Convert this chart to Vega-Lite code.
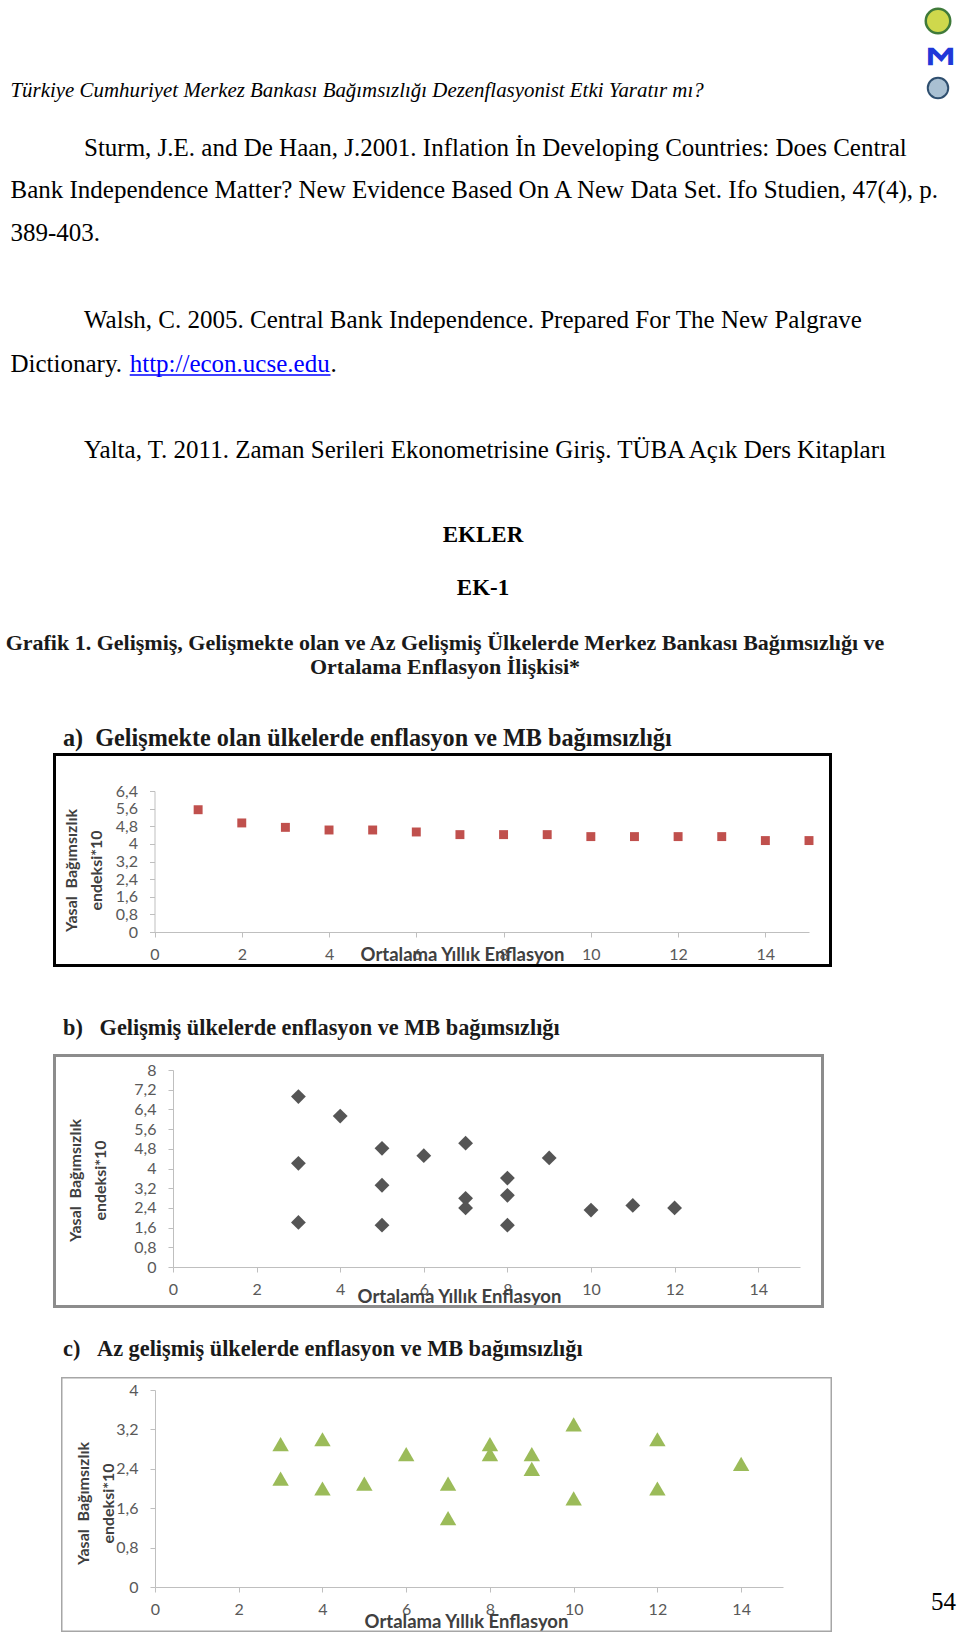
{
  "$schema": "https://vega.github.io/schema/vega-lite/v6.json",
  "width": 960,
  "height": 1639,
  "autosize": "none",
  "padding": 0,
  "background": "white",
  "config": {
    "view": {"stroke": null},
    "axis": {
      "grid": false,
      "domainColor": "#bfbfbf",
      "tickColor": "#bfbfbf",
      "tickSize": 5,
      "labelColor": "#595959",
      "labelFont": "Lato",
      "labelFontSize": 16,
      "labelOverlap": false,
      "labelFlush": false,
      "labelBound": false,
      "titleFont": "Lato",
      "titleFontSize": 18.5,
      "titleFontWeight": "bold",
      "titleColor": "#404040",
      "titlePadding": 0
    },
    "axisX": {"labelPadding": 9.1, "titleAlign": "center", "titleBaseline": "middle"},
    "axisY": {"labelPadding": 12, "titleAngle": -90, "titleAlign": "center", "titleBaseline": "middle", "titleLineHeight": 25, "titleFontSize": 16}
  },
  "datasets": {
    "page": [
      {"line": 1, "col": 8, "style": "logo1", "text": ""},
      {"line": 2, "col": 8, "style": "logo2", "text": "Σ"},
      {"line": 3, "col": 8, "style": "logo3", "text": ""},
      {"line": 4, "col": 0, "style": "header", "text": "Türkiye Cumhuriyet Merkez Bankası Bağımsızlığı Dezenflasyonist Etki Yaratır mı?"},
      {"line": 5, "col": 2, "style": "body", "text": "Sturm, J.E. and De Haan, J.2001. Inflation İn Developing Countries: Does Central"},
      {"line": 6, "col": 0, "style": "body", "text": "Bank Independence Matter? New Evidence Based On A New Data Set. Ifo Studien, 47(4), p."},
      {"line": 7, "col": 0, "style": "body", "text": "389-403."},
      {"line": 8, "col": 2, "style": "body", "text": "Walsh, C. 2005. Central Bank Independence. Prepared For The New Palgrave"},
      {"line": 9, "col": 0, "style": "body", "text": "Dictionary."},
      {"line": 9, "col": 3, "col2": 4, "style": "link", "text": "http://econ.ucse.edu"},
      {"line": 9, "col": 4, "style": "body", "text": "."},
      {"line": 10, "col": 2, "style": "body", "text": "Yalta, T. 2011. Zaman Serileri Ekonometrisine Giriş. TÜBA Açık Ders Kitapları"},
      {"line": 11, "col": 6, "style": "heading", "text": "EKLER"},
      {"line": 12, "col": 6, "style": "heading", "text": "EK-1"},
      {"line": 13, "col": 5, "style": "caption", "text": "Grafik 1. Gelişmiş, Gelişmekte olan ve Az Gelişmiş Ülkelerde Merkez Bankası Bağımsızlığı ve"},
      {"line": 14, "col": 5, "style": "caption", "text": "Ortalama Enflasyon İlişkisi*"},
      {"line": 15, "col": 1, "style": "panelbig", "text": "a)\u00a0\u00a0Gelişmekte olan ülkelerde enflasyon ve MB bağımsızlığı"},
      {"line": 16, "col": 1, "style": "panel", "text": "b)\u00a0\u00a0\u00a0Gelişmiş ülkelerde enflasyon ve MB bağımsızlığı"},
      {"line": 17, "col": 1, "style": "panel", "text": "c)\u00a0\u00a0\u00a0Az gelişmiş ülkelerde enflasyon ve MB bağımsızlığı"},
      {"line": 18, "col": 7, "style": "pagenum", "text": "54"}
    ],
    "a": [
      {"enflasyon": 1, "endeks": 5.55}, {"enflasyon": 2, "endeks": 4.95}, {"enflasyon": 3, "endeks": 4.75},
      {"enflasyon": 4, "endeks": 4.63}, {"enflasyon": 5, "endeks": 4.63}, {"enflasyon": 6, "endeks": 4.54},
      {"enflasyon": 7, "endeks": 4.42}, {"enflasyon": 8, "endeks": 4.42}, {"enflasyon": 9, "endeks": 4.42},
      {"enflasyon": 10, "endeks": 4.33}, {"enflasyon": 11, "endeks": 4.33}, {"enflasyon": 12, "endeks": 4.33},
      {"enflasyon": 13, "endeks": 4.33}, {"enflasyon": 14, "endeks": 4.15}, {"enflasyon": 15, "endeks": 4.15}
    ],
    "b": [
      {"enflasyon": 3, "endeks": 6.92}, {"enflasyon": 3, "endeks": 4.21}, {"enflasyon": 3, "endeks": 1.81},
      {"enflasyon": 4, "endeks": 6.13},
      {"enflasyon": 5, "endeks": 4.82}, {"enflasyon": 5, "endeks": 3.32}, {"enflasyon": 5, "endeks": 1.70},
      {"enflasyon": 6, "endeks": 4.52},
      {"enflasyon": 7, "endeks": 5.03}, {"enflasyon": 7, "endeks": 2.79}, {"enflasyon": 7, "endeks": 2.40},
      {"enflasyon": 8, "endeks": 3.61}, {"enflasyon": 8, "endeks": 2.91}, {"enflasyon": 8, "endeks": 1.70},
      {"enflasyon": 9, "endeks": 4.43},
      {"enflasyon": 10, "endeks": 2.31}, {"enflasyon": 11, "endeks": 2.50}, {"enflasyon": 12, "endeks": 2.40}
    ],
    "c": [
      {"enflasyon": 3, "endeks": 2.9}, {"enflasyon": 3, "endeks": 2.2},
      {"enflasyon": 4, "endeks": 3.0}, {"enflasyon": 4, "endeks": 2.0},
      {"enflasyon": 5, "endeks": 2.1}, {"enflasyon": 6, "endeks": 2.7},
      {"enflasyon": 7, "endeks": 2.1}, {"enflasyon": 7, "endeks": 1.4},
      {"enflasyon": 8, "endeks": 2.9}, {"enflasyon": 8, "endeks": 2.7},
      {"enflasyon": 9, "endeks": 2.7}, {"enflasyon": 9, "endeks": 2.4},
      {"enflasyon": 10, "endeks": 3.3}, {"enflasyon": 10, "endeks": 1.8},
      {"enflasyon": 12, "endeks": 3.0}, {"enflasyon": 12, "endeks": 2.0},
      {"enflasyon": 14, "endeks": 2.5}
    ]
  },
  "layer": [
    {
      "data": {"name": "page"},
      "layer": [
        {
          "transform": [{"filter": "datum.style === 'header'"}],
          "mark": {"type": "text", "align": "left", "baseline": "middle", "font": "Liberation Serif", "fontStyle": "italic", "fontSize": 20.9, "color": "#000000"},
          "encoding": {
            "x": {"field": "col", "type": "quantitative", "scale": {"domain": [0, 1, 2, 3, 4, 5, 6, 7, 8], "range": [10.5, 63, 84, 129.7, 330.5, 445, 483, 956, 938], "nice": false, "zero": false}, "axis": null},
            "y": {"field": "line", "type": "quantitative", "scale": {"domain": [1, 2, 3, 4, 5, 6, 7, 8, 9, 10, 11, 12, 13, 14, 15, 16, 17, 18], "range": [21, 56, 88, 91, 147.5, 190.3, 233.2, 320, 364, 450, 535, 588, 643, 667, 739, 1028, 1349, 1602], "nice": false, "zero": false}, "axis": null},
            "text": {"field": "text"}
          }
        },
        {
          "transform": [{"filter": "datum.style === 'logo1'"}],
          "mark": {"type": "point", "shape": "circle", "filled": true, "size": 600, "fill": "#cfd84c", "stroke": "#3f7a3a", "strokeWidth": 2.5, "opacity": 1},
          "encoding": {
            "x": {"field": "col", "type": "quantitative", "axis": null},
            "y": {"field": "line", "type": "quantitative", "axis": null}
          }
        },
        {
          "transform": [{"filter": "datum.style === 'logo2'"}],
          "mark": {"type": "text", "align": "center", "baseline": "middle", "font": "DejaVu Sans", "fontWeight": "bold", "fontSize": 34, "angle": 90, "color": "#2038d8"},
          "encoding": {
            "x": {"field": "col", "type": "quantitative", "axis": null},
            "y": {"field": "line", "type": "quantitative", "axis": null},
            "text": {"field": "text"}
          }
        },
        {
          "transform": [{"filter": "datum.style === 'logo3'"}],
          "mark": {"type": "point", "shape": "circle", "filled": true, "size": 420, "fill": "#a9c0d2", "stroke": "#2f4f6f", "strokeWidth": 2, "opacity": 1},
          "encoding": {
            "x": {"field": "col", "type": "quantitative", "axis": null},
            "y": {"field": "line", "type": "quantitative", "axis": null}
          }
        },
        {
          "transform": [{"filter": "datum.style === 'body'"}],
          "mark": {"type": "text", "align": "left", "baseline": "middle", "font": "Liberation Serif", "fontSize": 25, "color": "#000000"},
          "encoding": {
            "x": {"field": "col", "type": "quantitative", "axis": null},
            "y": {"field": "line", "type": "quantitative", "axis": null},
            "text": {"field": "text"}
          }
        },
        {
          "transform": [{"filter": "datum.style === 'link'"}],
          "mark": {"type": "text", "align": "left", "baseline": "middle", "font": "Liberation Serif", "fontSize": 25, "color": "#0000ff"},
          "encoding": {
            "x": {"field": "col", "type": "quantitative", "axis": null},
            "y": {"field": "line", "type": "quantitative", "axis": null},
            "text": {"field": "text"}
          }
        },
        {
          "transform": [{"filter": "datum.style === 'link'"}],
          "mark": {"type": "rule", "color": "#0000ff", "strokeWidth": 1.3, "yOffset": 11},
          "encoding": {
            "x": {"field": "col", "type": "quantitative", "axis": null},
            "x2": {"field": "col2"},
            "y": {"field": "line", "type": "quantitative", "axis": null}
          }
        },
        {
          "transform": [{"filter": "datum.style === 'heading'"}],
          "mark": {"type": "text", "align": "center", "baseline": "middle", "font": "Liberation Serif", "fontWeight": "bold", "fontSize": 23, "color": "#000000"},
          "encoding": {
            "x": {"field": "col", "type": "quantitative", "axis": null},
            "y": {"field": "line", "type": "quantitative", "axis": null},
            "text": {"field": "text"}
          }
        },
        {
          "transform": [{"filter": "datum.style === 'caption'"}],
          "mark": {"type": "text", "align": "center", "baseline": "middle", "font": "Liberation Serif", "fontWeight": "bold", "fontSize": 22, "color": "#1a1a1a"},
          "encoding": {
            "x": {"field": "col", "type": "quantitative", "axis": null},
            "y": {"field": "line", "type": "quantitative", "axis": null},
            "text": {"field": "text"}
          }
        },
        {
          "transform": [{"filter": "datum.style === 'panelbig'"}],
          "mark": {"type": "text", "align": "left", "baseline": "middle", "font": "Liberation Serif", "fontWeight": "bold", "fontSize": 24.2, "color": "#1a1a1a"},
          "encoding": {
            "x": {"field": "col", "type": "quantitative", "axis": null},
            "y": {"field": "line", "type": "quantitative", "axis": null},
            "text": {"field": "text"}
          }
        },
        {
          "transform": [{"filter": "datum.style === 'panel'"}],
          "mark": {"type": "text", "align": "left", "baseline": "middle", "font": "Liberation Serif", "fontWeight": "bold", "fontSize": 22.3, "color": "#1a1a1a"},
          "encoding": {
            "x": {"field": "col", "type": "quantitative", "axis": null},
            "y": {"field": "line", "type": "quantitative", "axis": null},
            "text": {"field": "text"}
          }
        },
        {
          "transform": [{"filter": "datum.style === 'pagenum'"}],
          "mark": {"type": "text", "align": "right", "baseline": "middle", "font": "Liberation Serif", "fontSize": 25, "color": "#000000"},
          "encoding": {
            "x": {"field": "col", "type": "quantitative", "axis": null},
            "y": {"field": "line", "type": "quantitative", "axis": null},
            "text": {"field": "text"}
          }
        }
      ]
    },
    {
      "data": {"values": [{"frame": "a"}]},
      "mark": {"type": "rect", "fillOpacity": 0, "stroke": "#000000", "strokeWidth": 3},
      "encoding": {
        "x": {"datum": 0, "type": "quantitative", "scale": {"domain": [0, 1], "range": [54.5, 830.5], "nice": false, "zero": false}, "axis": null},
        "x2": {"datum": 1},
        "y": {"datum": 1, "type": "quantitative", "scale": {"domain": [0, 1], "range": [965.5, 754.5], "nice": false, "zero": false}, "axis": null},
        "y2": {"datum": 0}
      }
    },
    {
      "data": {"name": "a"},
      "mark": {"type": "point", "shape": "square", "filled": true, "size": 80, "color": "#c0504d", "opacity": 1},
      "encoding": {
        "x": {"field": "enflasyon", "type": "quantitative", "scale": {"domain": [0, 15], "range": [154.5, 809], "nice": false, "zero": false},
          "axis": {"orient": "bottom", "offset": -707, "values": [0, 2, 4, 6, 8, 10, 12, 14], "format": "d", "title": "Ortalama Yıllık Enflasyon", "titleX": 462, "titleY": 22}},
        "y": {"field": "endeks", "type": "quantitative", "scale": {"domain": [0, 6.4], "range": [932, 791], "nice": false, "zero": false},
          "axis": {"orient": "left", "offset": -154.5, "values": [0, 0.8, 1.6, 2.4, 3.2, 4, 4.8, 5.6, 6.4], "labelExpr": "replace(format(datum.value, '.1~f'), '.', ',')", "title": ["Yasal\u00a0 Bağımsızlık", "endeksi*10"], "titleX": -83.5, "titleY": 870}}
      }
    },
    {
      "data": {"values": [{"frame": "b"}]},
      "mark": {"type": "rect", "fillOpacity": 0, "stroke": "#8c8c8c", "strokeWidth": 3},
      "encoding": {
        "x": {"datum": 0, "type": "quantitative", "scale": {"domain": [0, 1], "range": [54.5, 822.5], "nice": false, "zero": false}, "axis": null},
        "x2": {"datum": 1},
        "y": {"datum": 1, "type": "quantitative", "scale": {"domain": [0, 1], "range": [1306.5, 1055.5], "nice": false, "zero": false}, "axis": null},
        "y2": {"datum": 0}
      }
    },
    {
      "data": {"name": "b"},
      "mark": {"type": "point", "shape": "diamond", "filled": true, "size": 220, "color": "#555555", "opacity": 1},
      "encoding": {
        "x": {"field": "enflasyon", "type": "quantitative", "scale": {"domain": [0, 15], "range": [173, 800], "nice": false, "zero": false},
          "axis": {"orient": "bottom", "offset": -372, "values": [0, 2, 4, 6, 8, 10, 12, 14], "format": "d", "title": "Ortalama Yıllık Enflasyon", "titleX": 459, "titleY": 29}},
        "y": {"field": "endeks", "type": "quantitative", "scale": {"domain": [0, 8], "range": [1267, 1070], "nice": false, "zero": false},
          "axis": {"orient": "left", "offset": -173, "values": [0, 0.8, 1.6, 2.4, 3.2, 4, 4.8, 5.6, 6.4, 7.2, 8], "labelExpr": "replace(format(datum.value, '.1~f'), '.', ',')", "title": ["Yasal\u00a0 Bağımsızlık", "endeksi*10"], "titleX": -98, "titleY": 1180}}
      }
    },
    {
      "data": {"values": [{"frame": "c"}]},
      "mark": {"type": "rect", "fillOpacity": 0, "stroke": "#a6a6a6", "strokeWidth": 1.5},
      "encoding": {
        "x": {"datum": 0, "type": "quantitative", "scale": {"domain": [0, 1], "range": [61.75, 831.25], "nice": false, "zero": false}, "axis": null},
        "x2": {"datum": 1},
        "y": {"datum": 1, "type": "quantitative", "scale": {"domain": [0, 1], "range": [1631.25, 1377.75], "nice": false, "zero": false}, "axis": null},
        "y2": {"datum": 0}
      }
    },
    {
      "data": {"name": "c"},
      "mark": {"type": "point", "shape": "triangle-up", "filled": true, "size": 270, "color": "#9bbb59", "opacity": 1},
      "encoding": {
        "x": {"field": "enflasyon", "type": "quantitative", "scale": {"domain": [0, 15], "range": [155, 783], "nice": false, "zero": false},
          "axis": {"orient": "bottom", "offset": -52, "values": [0, 2, 4, 6, 8, 10, 12, 14], "format": "d", "title": "Ortalama Yıllık Enflasyon", "titleX": 466, "titleY": 34}},
        "y": {"field": "endeks", "type": "quantitative", "scale": {"domain": [0, 4], "range": [1587, 1390], "nice": false, "zero": false},
          "axis": {"orient": "left", "offset": -155, "values": [0, 0.8, 1.6, 2.4, 3.2, 4], "labelExpr": "replace(format(datum.value, '.1~f'), '.', ',')", "title": ["Yasal\u00a0 Bağımsızlık", "endeksi*10"], "titleX": -72, "titleY": 1503}}
      }
    }
  ],
  "resolve": {"scale": {"x": "independent", "y": "independent"}, "axis": {"x": "independent", "y": "independent"}}
}
